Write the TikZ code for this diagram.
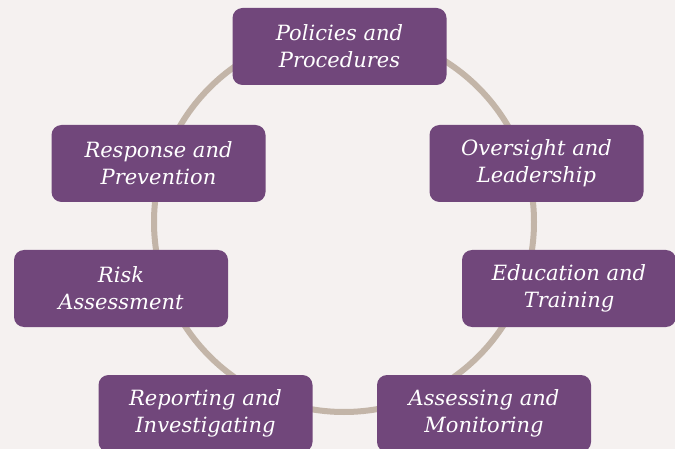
\documentclass[tikz,border=0pt]{standalone}
\usepackage{fontspec}
\setmainfont{DejaVu Serif}
\usepackage{xcolor}
\usepackage{tikz}

\definecolor{bgpaper}{HTML}{F5F1F0}
\definecolor{ringtan}{HTML}{C3B5A8}
\definecolor{plum}{HTML}{71477B}

\begin{document}
\begin{tikzpicture}[x=1pt,y=-1pt,
    font=\fontsize{21}{26.7}\selectfont\itshape,
    area/.style={fill=plum,text=white,rounded corners=10pt,align=center,
      minimum width=214pt,minimum height=77pt,inner sep=0pt}]
      \fill[bgpaper] (0,0) rectangle (675,449);
      \useasboundingbox (0,0) rectangle (675,449);
      \coordinate (ring) at (344,222);
      \draw[ringtan,line width=6pt] (ring) circle (190);
      \node[area] (policies) at (339.5,46.5) {Policies and\\Procedures};
      \node[area] (oversight) at (536.5,163.5) {Oversight and\\Leadership};
      \node[area] (education) at (569,288.5) {Education and\\Training};
      \node[area] (assessing) at (484,413.5) {Assessing and\\Monitoring};
      \node[area] (reporting) at (205.5,413.5) {Reporting and\\Investigating};
      \node[area] (risk) at (121,288.5) {Risk\\Assessment};
      \node[area] (response) at (158.5,163.5) {Response and\\Prevention};
    \end{tikzpicture}
\end{document}
